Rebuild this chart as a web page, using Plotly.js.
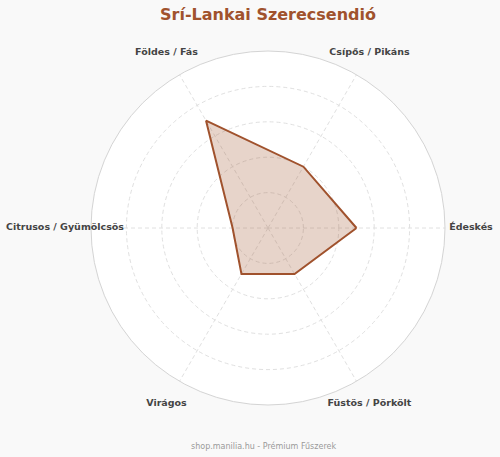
<!DOCTYPE html>
<html><head><meta charset="utf-8">
<script src="https://cdn.plot.ly/plotly-3.0.1.min.js"></script>
<style>html,body{margin:0;padding:0;background:#f9f9f9}</style>
</head><body>
<div id="chart" style="width:500px;height:457px"></div>
<script>
const categories = ["Édeskés", "Csípős / Pikáns", "Földes / Fás", "Citrusos / Gyümölcsös", "Virágos", "Füstös / Pörkölt"];
const values = [5, 4, 7, 2, 3, 3];
const titleText = "Srí-Lankai Szerecsendió";
const footerText = "shop.manilia.hu - Prémium Fűszerek";

const W = 500, H = 457;
const cx = 268, cy = 228, R = 177, RL = 203;
const dom = (r) => ({x: [(cx - r) / W, (cx + r) / W], y: [(H - cy - r) / H, (H - cy + r) / H]});

const trace = {
  type: "scatterpolar",
  subplot: "polar",
  r: values.concat([values[0]]),
  theta: categories.concat([categories[0]]),
  mode: "lines",
  fill: "toself",
  fillcolor: "rgba(160,82,45,0.25)",
  line: {color: "#a0522d", width: 2},
  hoverinfo: "skip"
};

const labels = {
  type: "scatterpolar",
  subplot: "polar2",
  r: categories.map(() => 1),
  theta: categories,
  mode: "text",
  text: categories.map(c => "<b>" + c + "</b>"),
  textposition: "middle center",
  textfont: {family: "DejaVu Sans", size: 9.5, color: "#444"},
  cliponaxis: false,
  hoverinfo: "skip"
};

const layout = {
  width: W, height: H,
  paper_bgcolor: "#f9f9f9",
  font: {family: "DejaVu Sans", color: "#444"},
  margin: {l: 0, r: 0, t: 0, b: 0},
  showlegend: false,
  title: {text: "<b>" + titleText + "</b>", font: {family: "DejaVu Sans", size: 16, color: "#a0522d"}, x: cx / W, xref: "paper", xanchor: "center", y: 1 - 14 / H, yref: "container", yanchor: "middle"},
  polar: {
    bgcolor: "#ffffff",
    domain: dom(R),
    radialaxis: {range: [0, 10], dtick: 2, showticklabels: false, ticks: "", showline: false, gridcolor: "#e0e0e0", griddash: "4px,3px"},
    angularaxis: {rotation: 0, direction: "counterclockwise", showticklabels: false, linecolor: "#d4d4d4", linewidth: 1, gridcolor: "#e0e0e0", griddash: "4px,3px", ticks: ""}
  },
  polar2: {
    bgcolor: "rgba(0,0,0,0)",
    domain: dom(RL),
    radialaxis: {range: [0, 1], visible: false, showgrid: false},
    angularaxis: {rotation: 0, direction: "counterclockwise", visible: false, showgrid: false, showline: false, showticklabels: false, ticks: ""}
  },
  annotations: [{text: footerText, xref: "paper", yref: "paper", x: 263.5 / W, y: (H - 446) / H, xanchor: "center", yanchor: "middle", showarrow: false, font: {family: "DejaVu Sans", size: 8, color: "#999"}}]
};

Plotly.newPlot("chart", [trace, labels], layout, {displayModeBar: false});
</script>
</body></html>
